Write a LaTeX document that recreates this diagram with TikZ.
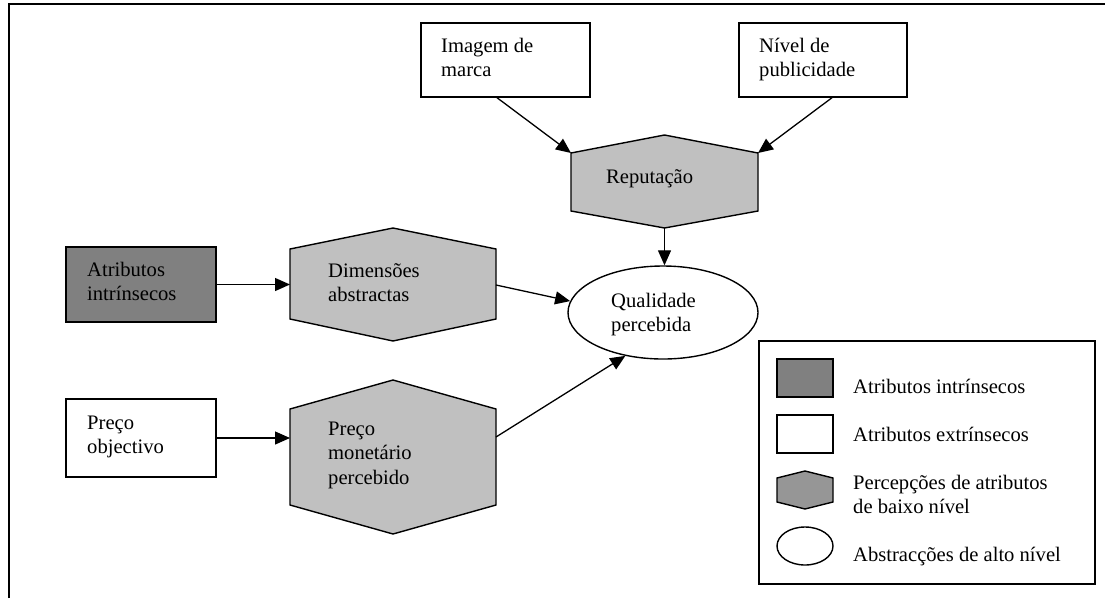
\documentclass[tikz,border=0pt]{standalone}
\usepackage{fontspec}
\setmainfont{Liberation Serif}
\usetikzlibrary{arrows.meta,shapes.geometric}
\definecolor{hexfill}{HTML}{C0C0C0}
\definecolor{intrfill}{HTML}{808080}
\definecolor{keyhex}{HTML}{969696}
\newcommand\mlines[1]{\begin{tabular}[t]{@{}l@{}}#1\end{tabular}}

\begin{document}
\begin{tikzpicture}[x=1pt,y=-1pt,
  every node/.style={font=\fontsize{20.6}{24.5}\selectfont},
  box/.style={draw, line width=1.4pt, rectangle, inner sep=0pt},
  hexa/.style={draw, line width=1.4pt, fill=hexfill, line join=miter},
  oval/.style={draw, ellipse, line width=1.4pt, inner sep=0pt},
  lbl/.style={anchor=base west, inner sep=0pt},
  arr/.style={line width=1.3pt, -{Triangle[length=15pt,width=13pt]}},
]
\useasboundingbox (0,0) rectangle (1105,598);

% outer frame
\draw[line width=2pt] (9,598) -- (9,3.5) -- (1105,3.5);

% extrinsic / intrinsic attribute boxes
\node[box, minimum width=169pt, minimum height=74pt] (img) at (505.5,60) {};
\node[box, minimum width=168pt, minimum height=74pt] (pub) at (823,60) {};
\node[box, fill=intrfill, minimum width=150pt, minimum height=75pt] (intr) at (141,284.5) {};
\node[box, minimum width=150pt, minimum height=78pt] (obj) at (141,438) {};

% low-level perceptions (hexagons)
\draw[hexa] (664.5,135) coordinate (rep-n) -- (758,153) coordinate (rep-ne)
  -- (758,211) -- (664.5,228) coordinate (rep-s) -- (571,211)
  -- (571,153) coordinate (rep-nw) -- cycle;
\draw[hexa] (393,228) -- (496,249) -- (496,319) -- (393,341) -- (290,319)
  -- (290,249) -- cycle;
\coordinate (dim-w) at (290,284.5);
\coordinate (dim-e) at (496,285);
\draw[hexa] (393,380) -- (496,409) -- (496,505) -- (393,534) -- (290,505)
  -- (290,409) -- cycle;
\coordinate (mon-w) at (290,438);
\coordinate (mon-e) at (496,437);

% high-level abstraction
\node[oval, minimum width=190pt, minimum height=93pt] (qual) at (663,312.5) {};

% labels
\node[lbl] (t-img) at (441,52) {\mlines{Imagem de\\marca}};
\node[lbl] (t-pub) at (759,52) {\mlines{Nível de\\publicidade}};
\node[lbl] (t-rep) at (606,183) {Reputação};
\node[lbl] (t-qual) at (611,307) {\mlines{Qualidade\\percebida}};
\node[lbl] (t-intr) at (87,276) {\mlines{Atributos\\intrínsecos}};
\node[lbl] (t-dim) at (328,277) {\mlines{Dimensões\\abstractas}};
\node[lbl] (t-obj) at (87,429) {\mlines{Preço\\objectivo}};
\node[lbl] (t-mon) at (328,435) {\mlines{Preço\\monetário\\percebido}};

% connectors
\draw[arr] ([xshift=-8.5pt]img.south) -- (rep-nw);
\draw[arr] ([xshift=9pt]pub.south) -- (rep-ne);
\draw[arr] (rep-s) -- (rep-s |- qual.north);
\draw[arr] (intr.east) -- (dim-w);
\draw[arr] (dim-e) -- (qual.173.5);
\draw[arr] (obj.east) -- (mon-w);
\draw[arr] (mon-e) -- (qual.229);

% key
\node[box, minimum width=336pt, minimum height=243pt] (key) at (927,462.5) {};
\node[box, fill=intrfill, minimum width=56pt, minimum height=38pt] (key-intr) at (805,378) {};
\node[box, minimum width=56pt, minimum height=38pt] (key-extr) at (805,434) {};
\draw[hexa, fill=keyhex] (805,471) -- (833,478) -- (833,502) -- (805,509)
  -- (777,502) -- (777,478) -- cycle;
\node[oval, minimum width=56pt, minimum height=38pt] (key-abs) at (805,546) {};
\node[lbl] (k-intr) at (853,393) {Atributos intrínsecos};
\node[lbl] (k-extr) at (853,441) {Atributos extrínsecos};
\node[lbl] (k-perc) at (853,489) {\mlines{Percepções de atributos\\de baixo nível}};
\node[lbl] (k-abs) at (853,561) {Abstracções de alto nível};
\end{tikzpicture}
\end{document}
